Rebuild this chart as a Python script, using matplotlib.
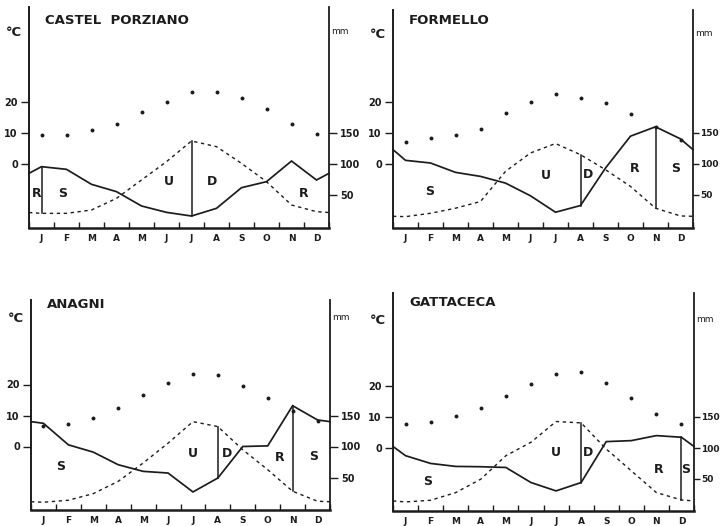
import matplotlib
matplotlib.use("Agg")
import matplotlib.pyplot as plt
import numpy as np

plt.rcParams["font.family"] = ["DejaVu Sans"]

months = ["J", "F", "M", "A", "M", "J", "J", "A", "S", "O", "N", "D"]

# Station data: mean temperature (°C), precipitation P (mm), potential evapotranspiration PE (mm)
castel_temp = [9.3, 9.3, 10.9, 12.8, 16.8, 20.1, 23.1, 23.2, 21.3, 17.6, 12.8, 9.8]
castel_prec = [95.7, 91.4, 67.2, 55.4, 32.3, 22.0, 16.1, 28.5, 61.8, 71.5, 104.8, 74.2]
castel_pe = [20.4, 20.4, 25.8, 44.6, 74.2, 103.8, 137.1, 128.0, 101.0, 71.5, 33.9, 23.1]

formello_temp = [7.0, 8.4, 9.2, 11.3, 16.5, 19.9, 22.7, 21.4, 19.7, 16.2, 11.8, 7.8]
formello_prec = [105.9, 101.6, 86.5, 80.0, 69.2, 48.7, 22.2, 33.0, 93.5, 144.9, 160.0, 140.5]
formello_pe = [15.1, 20.5, 28.7, 39.5, 88.1, 117.8, 133.0, 115.0, 90.8, 63.8, 28.7, 16.2]

anagni_temp = [6.5, 7.1, 9.2, 12.4, 16.5, 20.5, 23.4, 23.1, 19.5, 15.6, 11.6, 8.1]
anagni_prec = [137.4, 102.7, 90.9, 70.6, 59.9, 57.2, 26.7, 49.2, 100.0, 101.0, 165.8, 142.8]
anagni_pe = [10.1, 13.3, 24.0, 43.8, 73.3, 105.4, 140.1, 132.1, 94.7, 62.6, 27.8, 11.7]

gatta_temp = [7.6, 8.4, 10.3, 12.8, 16.9, 20.5, 23.8, 24.4, 21.1, 16.0, 11.1, 7.7]
gatta_prec = [87.6, 75.1, 70.3, 69.8, 68.6, 44.3, 30.8, 44.3, 110.3, 111.9, 120.0, 117.3]
gatta_pe = [13.0, 15.7, 28.1, 49.7, 87.6, 109.2, 142.7, 140.5, 98.4, 63.2, 28.1, 16.2]

# Months at which the water-balance phases change (vertical separators)
castel_bounds = [0, 6]
formello_bounds = [7, 10]
anagni_bounds = [7, 10]
gatta_bounds = [7, 11]

# Phase letters: R recharge, S surplus, U utilisation, D deficit
castel_phases = ["R", "S", "U", "D", "R"]
formello_phases = ["S", "U", "D", "R", "S"]
anagni_phases = ["S", "U", "D", "R", "S"]
gatta_phases = ["S", "U", "D", "R", "S"]

W, H = 722, 526
fig = plt.figure(figsize=(W / 100, H / 100), dpi=100)
fig.patch.set_facecolor("white")

INK = "#1c1c1c"
PX_PER_MM = 0.62  # 50 mm (= 10 °C) spans 31 px


def px_text(x, y, s, **kw):
    fig.text(x / W, 1 - y / H, s, **kw)


def temp_to_mm(t):
    return 100 + 5 * np.asarray(t)


def panel(name, temp, prec, pe, bounds, phases, phase_pos, box, label_y, compact):
    left, right, base, zero, top = box
    title_y, unit_y = label_y
    ax = fig.add_axes([left / W, 1 - base / H, (right - left) / W, (base - top) / H])
    ylo = 100 - (base - zero) / PX_PER_MM
    yhi = 100 + (zero - top) / PX_PER_MM
    ax.set_xlim(0, 12)
    ax.set_ylim(ylo, yhi)

    centers = np.arange(12) + 0.5
    xs = np.concatenate([[0], centers, [12]])
    wrap_p = (prec[0] + prec[-1]) / 2
    wrap_e = (pe[0] + pe[-1]) / 2
    p_line = np.concatenate([[wrap_p], prec, [wrap_p]])
    e_line = np.concatenate([[wrap_e], pe, [wrap_e]])

    ax.plot(xs, p_line, color=INK, lw=1.25, solid_joinstyle="miter", clip_on=False)
    ax.plot(xs, e_line, color=INK, lw=1.0, dashes=(2.4, 2.6), clip_on=False)
    ax.scatter(centers, temp_to_mm(temp), s=8, color=INK, zorder=3, linewidths=0)

    for b in bounds:
        ax.plot([centers[b], centers[b]], [prec[b], pe[b]], color=INK, lw=1.1)

    for letter, (px, py) in zip(phases, phase_pos):
        ax.text(px, py, letter, fontsize=9, fontweight="bold", color=INK,
                ha="center", va="center")

    ax.spines["top"].set_visible(False)
    ax.spines["left"].set_linewidth(1.4)
    ax.spines["right"].set_linewidth(1.3)
    ax.spines["bottom"].set_linewidth(1.8)
    for side in ("left", "right", "bottom"):
        ax.spines[side].set_color(INK)

    # Temperature scale on the left, precipitation scale on the right
    ax.set_yticks(temp_to_mm([0, 10, 20]))
    ax.set_yticklabels(["0", "10", "20"])
    ax.tick_params(axis="y", which="major", left=True, right=False, direction="out",
                   length=6, width=1, pad=2, labelsize=7, colors=INK)
    for lab in ax.get_yticklabels():
        lab.set_fontweight("bold")

    ax2 = ax.twinx()
    ax2.set_ylim(ylo, yhi)
    for side in ("top", "left", "bottom", "right"):
        ax2.spines[side].set_visible(False)
    ax2.set_yticks([50, 100, 150])
    ax2.set_yticklabels(["50", "100", "150"])
    if compact:
        ax2.tick_params(axis="y", right=True, direction="out", length=4, width=1, pad=1,
                        labelsize=6.5, colors=INK)
    else:
        ax2.tick_params(axis="y", right=True, direction="out", length=6, width=1, pad=2,
                        labelsize=7, colors=INK)
    for lab in ax2.get_yticklabels():
        lab.set_fontweight("bold")

    ax.set_xticks(np.arange(13))
    ax.set_xticklabels([])
    ax.tick_params(axis="x", which="major", direction="in", length=4, width=1, colors=INK)
    ax.set_xticks(centers, minor=True)
    ax.set_xticklabels(months, minor=True)
    ax.tick_params(axis="x", which="minor", length=0, pad=4, labelsize=6.5, colors=INK)
    for lab in ax.get_xticklabels(minor=True):
        lab.set_fontweight("bold")

    px_text(left + 16, title_y, name, fontsize=9.5, fontweight="bold",
            color=INK, va="center", ha="left")
    px_text(left - 15, unit_y, "°C", fontsize=9.5, fontweight="bold",
            color=INK, va="center", ha="center")
    px_text(right + 2, unit_y - 1, "mm", fontsize=6.5, color=INK, va="center", ha="left")
    return ax


panel("CASTEL  PORZIANO", castel_temp, castel_prec, castel_pe, castel_bounds,
      castel_phases, [(0.31, 53), (1.35, 53), (5.6, 71.5), (7.33, 71.5), (10.97, 53)],
      (29, 329, 228, 164, 7), (21, 33), False)
panel("FORMELLO", formello_temp, formello_prec, formello_pe, formello_bounds,
      formello_phases, [(1.45, 56), (6.12, 81), (7.8, 83), (9.67, 92), (11.3, 93)],
      (393, 693, 228, 164, 10), (21, 35), True)
panel("ANAGNI", anagni_temp, anagni_prec, anagni_pe, anagni_bounds,
      anagni_phases, [(1.2, 67), (6.5, 88), (7.85, 89), (9.97, 82), (11.33, 84)],
      (31, 330, 510, 446.5, 300), (305, 318), False)
panel("GATTACECA", gatta_temp, gatta_prec, gatta_pe, gatta_bounds,
      gatta_phases, [(1.37, 46), (6.51, 92), (7.77, 92), (10.61, 66), (11.68, 66)],
      (393, 694, 511, 448, 293), (302, 320), True)

fig.savefig("out.png", dpi=100, facecolor="white")
